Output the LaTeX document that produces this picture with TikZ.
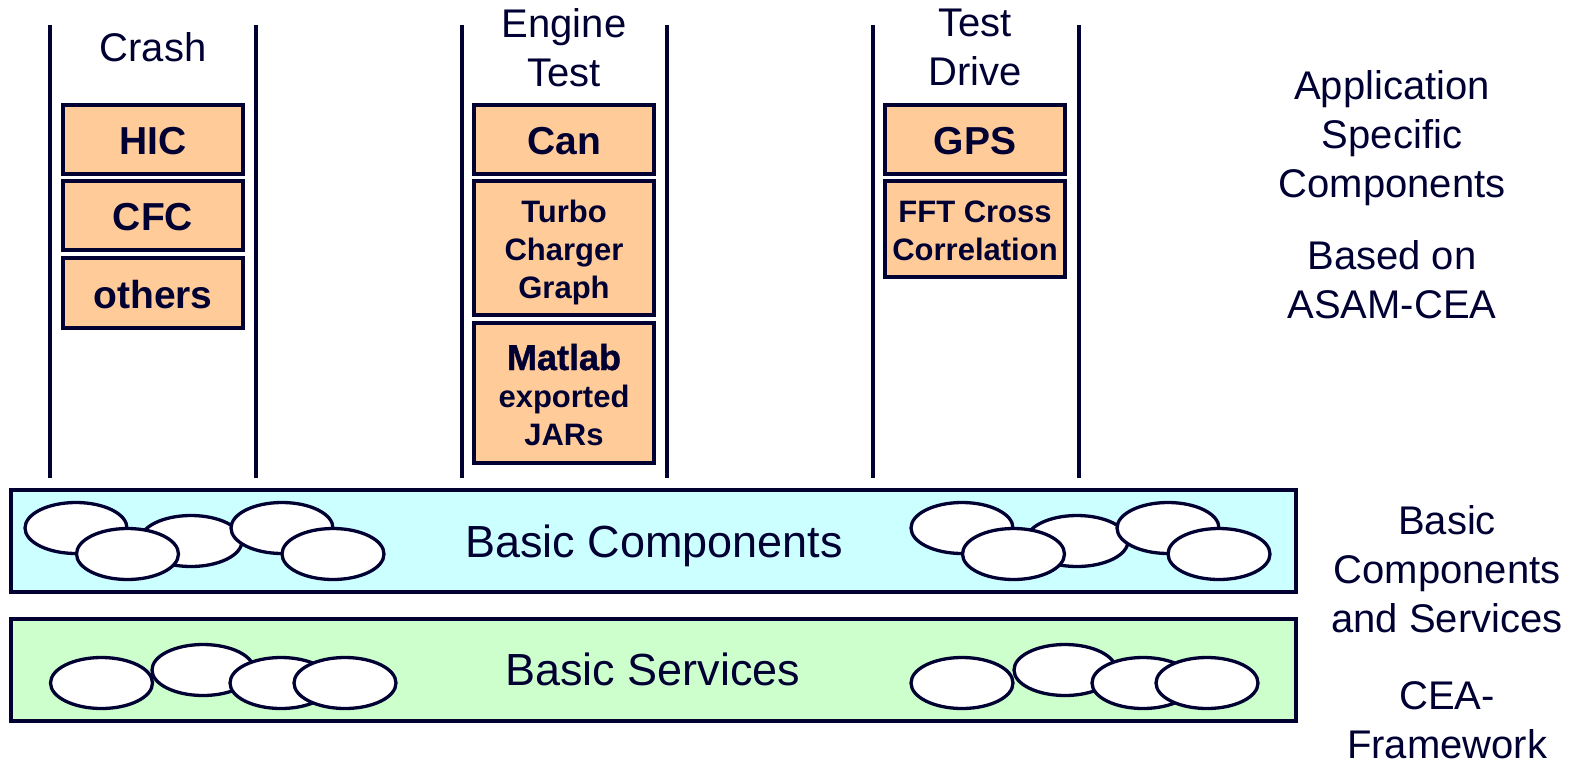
\documentclass[tikz,border=0pt]{standalone}
\usepackage{fontspec}
\setmainfont{Liberation Sans}
\newfontface\heavyfont{Liberation Sans Bold}[FakeBold=1.2]
\usetikzlibrary{shapes.geometric}
\definecolor{ink}{RGB}{0,0,51}
\definecolor{boxfill}{HTML}{FFCC99}
\definecolor{compfill}{HTML}{CCFFFF}
\definecolor{servfill}{HTML}{CCFFCC}
\tikzset{
  pillar/.style={draw=ink, line width=3.5pt},
  appbox/.style={rectangle, draw=ink, fill=boxfill, line width=4pt,
    minimum width=180pt, inner sep=0pt},
  layer/.style={rectangle, draw=ink, line width=3.5pt, minimum width=1285pt,
    minimum height=102pt, inner sep=0pt},
  blob/.style={ellipse, draw=ink, fill=white, line width=3.3pt,
    minimum width=102pt, minimum height=51pt, inner sep=0pt},
  hd/.style={text=ink, font=\fontsize{40}{49}\selectfont, align=center,
    anchor=base, inner sep=0pt},
  bx/.style={text=ink, font=\bfseries\fontsize{39}{47}\selectfont,
    anchor=base, inner sep=0pt},
  sbx/.style={text=ink, font=\bfseries\fontsize{31}{38}\selectfont,
    align=center, anchor=base, inner sep=0pt},
  big/.style={text=ink, font=\fontsize{45}{50}\selectfont,
    anchor=base, inner sep=0pt},
}
\begin{document}
\begin{tikzpicture}[x=1pt, y=-1pt]
\useasboundingbox (0,0) rectangle (1581,760);

% pillars of the three application areas
\foreach \n/\x in {c1/50, c2/256, e1/462, e2/667, d1/873, d2/1079}{
  \coordinate (\n-top) at (\x,25);
  \coordinate (\n-bot) at (\x,478);
  \draw[pillar] (\n-top) -- (\n-bot);
}

% column headings (multi-line nodes sit on their last baseline)
\node[hd] (crash) at (153,62) {Crash};
\node[hd] (engine) at (564,86) {Engine\\Test};
\node[hd] (drive) at (975,85) {Test\\Drive};

% Crash components
\node[appbox, minimum height=69pt] (hic) at (153,139.5) {};
\node[appbox, minimum height=69pt] (cfc) at (153,215.5) {};
\node[appbox, minimum height=70pt] (oth) at (153,293) {};
\node[bx] (hic-t) at (153,154) {HIC};
\node[bx] (cfc-t) at (153,230) {CFC};
\node[bx] (oth-t) at (153,308) {others};

% Engine test components
\node[appbox, minimum height=69pt] (can) at (564,139.5) {};
\node[appbox, minimum height=134pt] (turbo) at (564,248) {};
\node[appbox, minimum height=140pt] (mat) at (564,393) {};
\node[bx] (can-t) at (564,154) {Can};
\node[sbx] (turbo-t) at (564,298) {Turbo\\Charger\\Graph};
\node[text=ink, font=\heavyfont\fontsize{36}{38}\selectfont, anchor=base,
  inner sep=0pt] (mat-t) at (564,370) {Matlab};
\node[sbx] (jar-t) at (564,445) {exported\\JARs};

% Test drive components
\node[appbox, minimum height=69pt] (gps) at (975,139.5) {};
\node[appbox, minimum height=96pt] (fft) at (975,229) {};
\node[bx] (gps-t) at (975,154) {GPS};
\node[sbx] (fft-t) at (975,260) {FFT Cross\\Correlation};

% framework layers
\node[layer, fill=compfill] (comp) at (653.5,541) {};
\node[layer, fill=servfill] (serv) at (653.5,670) {};

% component blobs, left and right
\foreach \o in {0, 886}{
  \node[blob] at (76+\o,528) {};
  \node[blob] at (191+\o,541) {};
  \node[blob] at (127.5+\o,554) {};
  \node[blob] at (282+\o,528) {};
  \node[blob] at (333+\o,554) {};
}
% service blobs, left
\node[blob] (s1) at (101.5,683) {};
\node[blob] (s2) at (203,670) {};
\node[blob] (s3) at (281,683) {};
\node[blob] (s4) at (345,683) {};
% service blobs, right
\node[blob] (s5) at (962,683) {};
\node[blob] (s6) at (1065,670) {};
\node[blob] (s7) at (1143,683) {};
\node[blob] (s8) at (1207,683) {};

\node[big] (comp-t) at (654,557) {Basic Components};
\node[big] (serv-t) at (653,685) {Basic Services};

% side legends
\node[hd] (asc) at (1392,197) {Application\\Specific\\Components};
\node[hd] (asam) at (1392,318) {Based on\\ASAM-CEA};
\node[hd] (bcs) at (1447,632) {Basic\\Components\\and Services};
\node[hd] (cea) at (1447,758) {CEA-\\Framework};
\end{tikzpicture}
\end{document}
